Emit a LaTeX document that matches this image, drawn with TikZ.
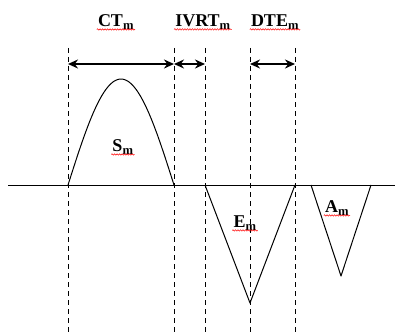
\documentclass[tikz,border=0pt]{standalone}
\usepackage{fontspec}
\setmainfont{Liberation Serif}
\usetikzlibrary{arrows.meta,decorations.pathmorphing}
\begin{document}
\begin{tikzpicture}[x=1pt,y=-1pt,
  guide/.style={dashed,dash pattern=on 5pt off 4pt,line width=0.8pt},
  span/.style={line width=2.6pt,{Stealth[length=10pt,width=9pt]}-{Stealth[length=10pt,width=9pt]}},
  curve/.style={line width=1pt,line join=round},
  lbl/.style={font=\fontsize{18}{19}\selectfont\bfseries,inner sep=1pt},
  squig/.style={red,line width=0.5pt,decorate,decoration={snake,amplitude=0.7pt,segment length=2.5pt}}]
\useasboundingbox (0,0) rectangle (395,334);
% guide lines
\foreach \n/\x in {a/68,b/174,c/205,d/250,e/295}{
  \coordinate (\n top) at (\x,48);
  \coordinate (\n bot) at (\x,334);
  \draw[guide] (\n top) -- (\n bot);
}
% span arrows
\coordinate (ca) at (68,64);
\coordinate (cb) at (174,64);
\coordinate (cc) at (205,64);
\coordinate (cd) at (250,64);
\coordinate (ce) at (295,64);
\draw[span] (ca) -- (cb);
\draw[span] (cb) -- (cc);
\draw[span] (cd) -- (ce);
% labels
\node[lbl] (ct) at (116,22) {CT\textsubscript{m}};
\node[lbl] (ivrt) at (203,22) {IVRT\textsubscript{m}};
\node[lbl] (dte) at (275,22) {DTE\textsubscript{m}};
\node[lbl] (sm) at (123,147) {S\textsubscript{m}};
\node[lbl] (em) at (245,223) {E\textsubscript{m}};
\node[lbl] (am) at (337,208) {A\textsubscript{m}};
\foreach \n in {ct,ivrt,dte,sm,em,am}{
  \draw[squig] ([yshift=1pt]\n.south west) -- ([yshift=1pt]\n.south east);
}
% baseline
\coordinate (bl) at (8,185);
\coordinate (br) at (395,185);
\draw[line width=1pt] (bl) -- (br);
% S wave
\draw[curve,domain=0:1,samples=60,variable=\t] plot ({68+106*\t},{185-106*sin(180*\t)});
% E wave
\coordinate (e1) at (205,185);
\coordinate (e2) at (250,303);
\coordinate (e3) at (295,185);
\draw[curve] (e1) -- (e2) -- (e3);
% A wave
\coordinate (a1) at (311,185);
\coordinate (a2) at (341,276);
\coordinate (a3) at (371,185);
\draw[curve] (a1) -- (a2) -- (a3);
\end{tikzpicture}
\end{document}
